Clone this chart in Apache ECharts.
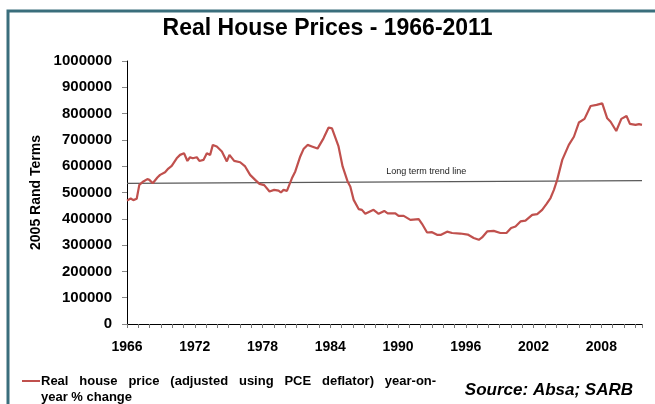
<!DOCTYPE html>
<html>
<head>
<meta charset="utf-8">
<script src="https://cdn.jsdelivr.net/npm/echarts@6/dist/echarts.min.js"></script>
<style>
    html, body { margin: 0; padding: 0; background: #fff; }
    #chart { width: 655px; height: 404px; }
</style>
</head>
<body>
<div id="chart"></div>
<script>
// Real house price, 2005 Rand terms (year, value)
const priceYears = [
    1966.0, 1966.33, 1966.56, 1966.86, 1967.09, 1967.45, 1967.8, 1967.98, 1968.28, 1968.45,
    1968.69, 1968.93, 1969.37, 1969.66, 1969.96, 1970.4, 1970.7, 1971.05, 1971.35, 1971.58,
    1971.82, 1972.18, 1972.41, 1972.77, 1973.07, 1973.36, 1973.6, 1973.95, 1974.4, 1974.84,
    1975.07, 1975.49, 1976.02, 1976.46, 1976.9, 1977.35, 1977.73, 1978.15, 1978.62, 1979.03,
    1979.42, 1979.63, 1979.86, 1980.16, 1980.6, 1980.9, 1981.34, 1981.63, 1981.99, 1982.37,
    1982.87, 1983.4, 1983.85, 1984.15, 1984.73, 1985.09, 1985.53, 1985.77, 1986.07, 1986.51,
    1986.8, 1987.1, 1987.83, 1988.28, 1988.78, 1989.08, 1989.76, 1990.05, 1990.5, 1991.09,
    1991.83, 1992.12, 1992.57, 1993.01, 1993.45, 1993.81, 1994.34, 1994.79, 1995.52, 1996.17,
    1996.7, 1997.15, 1997.44, 1997.89, 1998.47, 1999.06, 1999.6, 2000.01, 2000.4, 2000.84,
    2001.28, 2001.88, 2002.32, 2002.76, 2003.15, 2003.5, 2003.8, 2004.09, 2004.54, 2005.12,
    2005.57, 2006.01, 2006.51, 2007.05, 2007.58, 2008.08, 2008.52, 2008.82, 2009.32, 2009.77,
    2010.23, 2010.53, 2011.03, 2011.33, 2011.6
]
const priceValues = [
    469000, 477000, 471000, 476000, 529000, 542000, 551000, 548000, 535000, 538000,
    557000, 567000, 577000, 591000, 601000, 630000, 643000, 649000, 620000, 634000,
    630000, 634000, 620000, 624000, 649000, 643000, 681000, 675000, 656000, 618000,
    643000, 620000, 615000, 599000, 567000, 548000, 533000, 528000, 504000, 510000,
    507000, 500000, 510000, 506000, 554000, 580000, 637000, 665000, 681000, 675000,
    667000, 706000, 747000, 744000, 675000, 599000, 542000, 523000, 472000, 437000,
    434000, 419000, 434000, 419000, 430000, 421000, 421000, 411000, 411000, 396000,
    399000, 381000, 348000, 349000, 339000, 339000, 351000, 346000, 344000, 340000,
    327000, 320000, 329000, 352000, 354000, 346000, 346000, 365000, 371000, 390000,
    393000, 415000, 418000, 434000, 457000, 479000, 510000, 548000, 624000, 681000,
    712000, 766000, 780000, 829000, 833000, 839000, 782000, 769000, 734000, 780000,
    791000, 761000, 757000, 760000, 757000
]

// Long term trend line end points
const trendYears = [1966, 2011.6]
const trendValues = [535000, 545000]

const yearLabels = [1966, 1972, 1978, 1984, 1990, 1996, 2002, 2008]

const seriesName = 'Real house price (adjusted using PCE deflator) year-on-\nyear % change'

const chart = echarts.init(document.getElementById('chart'))

const option = {
    animation: false,
    title: {
        text: 'Real House Prices - 1966-2011',
        left: 'center',
        top: 12,
        textStyle: {
            fontFamily: 'Liberation Sans',
            fontSize: 23,
            fontWeight: 'bold',
            color: '#000'
        }
    },
    grid: {
        left: 127,
        right: 13,
        top: 61,
        height: 263
    },
    legend: {
        data: [seriesName],
        left: 17,
        top: 352,
        icon: 'rect',
        itemWidth: 18,
        itemHeight: 2,
        // leading blank line keeps the first text line level with the icon;
        // wide gaps copy the justified first line of the original
        formatter: name => '\n' + name.replace(/ /g, (m, off) => off < name.indexOf('\n') ? '   ' : ' '),
        textStyle: {
            fontFamily: 'Liberation Sans',
            fontSize: 13,
            fontWeight: 'bold',
            color: '#000',
            lineHeight: 16,
            padding: [0, 0, 0, -4]
        }
    },
    xAxis: [
        {
            type: 'value',
            min: 1966,
            max: 2011.6,
            interval: 1,
            axisLine: { lineStyle: { color: '#000', width: 1 } },
            axisTick: { length: 4, lineStyle: { color: '#777' } },
            axisLabel: { show: false },
            splitLine: { show: false }
        },
        {
            type: 'value',
            position: 'bottom',
            min: 1966,
            max: 2011.6,
            interval: 6,
            axisLine: { show: false },
            axisTick: { show: false },
            splitLine: { show: false },
            axisLabel: {
                margin: 16,
                fontFamily: 'Liberation Sans',
                fontSize: 14,
                fontWeight: 'bold',
                color: '#000',
                formatter: v => yearLabels.includes(v) ? String(v) : ''
            }
        }
    ],
    yAxis: {
        type: 'value',
        min: 0,
        max: 1000000,
        interval: 100000,
        name: '2005 Rand Terms',
        nameLocation: 'middle',
        nameGap: 84,
        nameTextStyle: {
            fontFamily: 'Liberation Sans',
            fontSize: 14,
            fontWeight: 'bold',
            color: '#000'
        },
        axisLine: { show: true, lineStyle: { color: '#000', width: 1 } },
        axisTick: { show: true, length: 5, lineStyle: { color: '#888' } },
        splitLine: { show: false },
        axisLabel: {
            margin: 15,
            fontFamily: 'Liberation Sans',
            fontSize: 15,
            fontWeight: 'bold',
            color: '#000',
            formatter: v => String(v)
        }
    },
    series: [
        {
            name: 'trend',
            type: 'line',
            xAxisIndex: 0,
            data: trendYears.map((y, i) => [y, trendValues[i]]),
            symbol: 'none',
            lineStyle: { color: '#5a5a5a', width: 1.3 },
            z: 1,
            markPoint: {
                symbol: 'rect',
                symbolSize: 0,
                data: [{ coord: [1992.5, 580000] }],
                label: {
                    show: true,
                    formatter: 'Long term trend line',
                    fontFamily: 'Liberation Sans',
                    fontSize: 9,
                    color: '#222'
                }
            }
        },
        {
            name: seriesName,
            type: 'line',
            xAxisIndex: 0,
            data: priceYears.map((y, i) => [y, priceValues[i]]),
            symbol: 'none',
            lineStyle: { color: '#c0504d', width: 2.2 },
            itemStyle: { color: '#c0504d' },
            z: 2
        }
    ],
    graphic: [
        {
            type: 'polyline',
            shape: { points: [[8, 404], [8, 11], [655, 11]] },
            style: { stroke: '#3a6e7c', lineWidth: 3, fill: null },
            silent: true
        },
        {
            type: 'text',
            right: 22,
            top: 382,
            style: {
                text: 'Source: Absa; SARB',
                font: 'italic bold 17px "Liberation Sans"',
                fill: '#000'
            }
        }
    ]
}

chart.setOption(option)
</script>
</body>
</html>
